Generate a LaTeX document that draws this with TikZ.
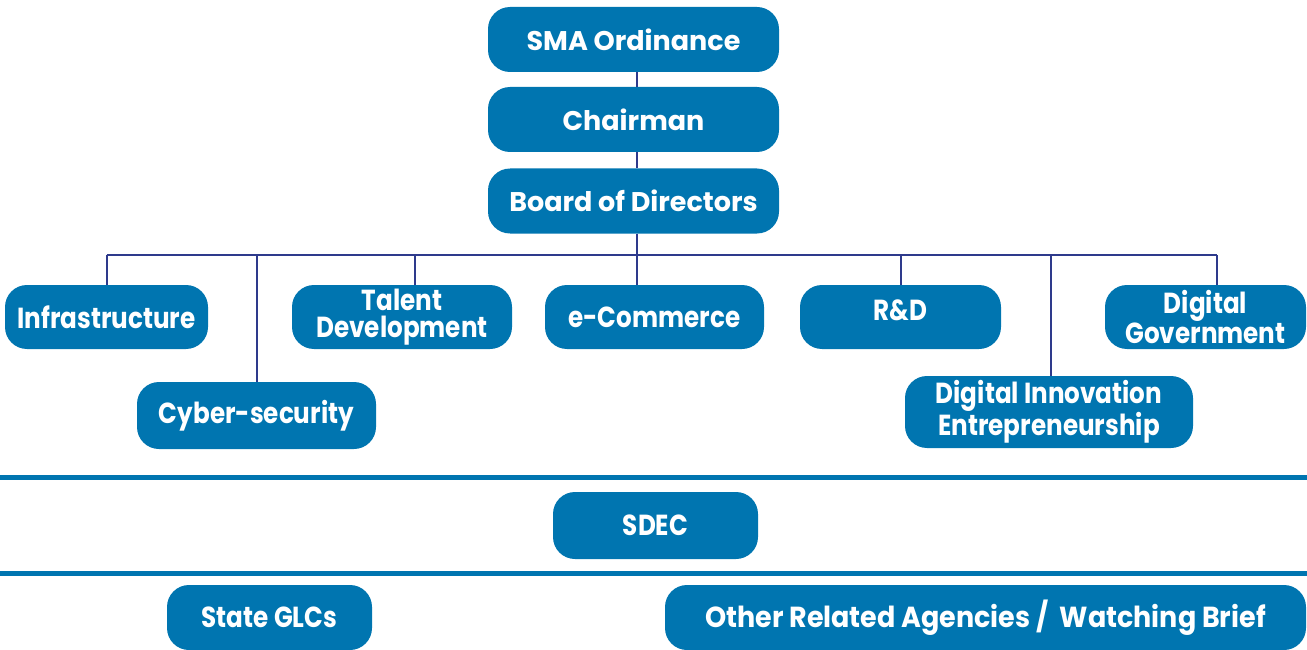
\documentclass[tikz,border=0pt]{standalone}
\usepackage{fontspec}
\setmainfont{Poppins}
\newfontfamily\narrowfont{Poppins}[FakeStretch=0.85]
\newfontfamily\wideunitfont{Poppins}[FakeStretch=0.93]
\usepackage{tikz}
\definecolor{boxblue}{RGB}{0,117,176}
\definecolor{linknavy}{RGB}{46,58,140}

\begin{document}
\begin{tikzpicture}[x=1pt,y=-1pt,
  unit/.style={fill=boxblue,text=white,rounded corners=22pt,inner sep=0pt,
    align=center,font=\narrowfont\bfseries\fontsize{29}{27.5}\selectfont},
  top/.style={unit,minimum width=291pt,minimum height=65pt,
    font=\bfseries\fontsize{27}{30}\selectfont},
  link/.style={draw=linknavy,line width=2pt},
  rule/.style={draw=boxblue,line width=5pt}]
  \useasboundingbox (0,0) rectangle (1307,650);
  % governing bodies
  \node[top] (sma) at (633.5,39.5) {SMA Ordinance};
  \node[top] (chair) at (633.5,119.5) {Chairman};
  \node[top] (board) at (633.5,201) {Board of Directors};
  % divisions
  \node[unit,minimum width=203pt,minimum height=64pt] (infra) at (106.5,317) {Infrastructure};
  \node[unit,minimum width=239pt,minimum height=67pt] (cyber) at (256.5,415.5) {Cyber-security};
  \node[unit,minimum width=220pt,minimum height=64pt] (talent) at (402,317) {Talent\\Development};
  \node[unit,minimum width=219pt,minimum height=64pt] (ecom) at (654.5,317) {e-Commerce};
  \node[unit,minimum width=201pt,minimum height=64pt,text depth=14pt] (rnd) at (900.5,317) {R\&D};
  \node[unit,minimum width=288pt,minimum height=72pt] (dinno) at (1049,412) {Digital Innovation\\Entrepreneurship};
  \node[unit,minimum width=201pt,minimum height=64pt] (dgov) at (1205.5,317) {Digital\\Government};
  % agencies
  \node[unit,minimum width=205pt,minimum height=67pt] (sdec) at (655.5,525.5) {SDEC};
  \node[unit,minimum width=205pt,minimum height=65pt] (glc) at (269.5,617.5) {State GLCs};
  \node[unit,minimum width=641pt,minimum height=65pt,
    font=\wideunitfont\bfseries\fontsize{29}{27.5}\selectfont] (other) at (985.5,617.5) {Other Related Agencies /\ \ Watching Brief};
  \coordinate (bus) at (637,255);
  \coordinate (left) at (0,477);
  \coordinate (right) at (1307,477);
  \coordinate (left2) at (0,573);
  \coordinate (right2) at (1307,573);
  % connectors
  \draw[link] ([xshift=3.5pt]sma.south) -- ([xshift=3.5pt]chair.north);
  \draw[link] ([xshift=3.5pt]chair.south) -- ([xshift=3.5pt]board.north);
  \draw[link] ([xshift=3.5pt]board.south) -- (bus);
  \draw[link] (infra.north |- bus) -- ([xshift=11.5pt]dgov.north |- bus);
  \draw[link] (infra.north) -- (infra.north |- bus);
  \draw[link] (cyber.north) -- (cyber.north |- bus);
  \draw[link] ([xshift=13pt]talent.north) -- ([xshift=13pt]talent.north |- bus);
  \draw[link] ([xshift=-17.5pt]ecom.north) -- ([xshift=-17.5pt]ecom.north |- bus);
  \draw[link] (rnd.north) -- (rnd.north |- bus);
  \draw[link] ([xshift=2pt]dinno.north) -- ([xshift=2pt]dinno.north |- bus);
  \draw[link] ([xshift=11.5pt]dgov.north) -- ([xshift=11.5pt]dgov.north |- bus);
  % separators
  \draw[rule] (left) -- (right);
  \draw[rule] (left2) -- (right2);
\end{tikzpicture}
\end{document}
